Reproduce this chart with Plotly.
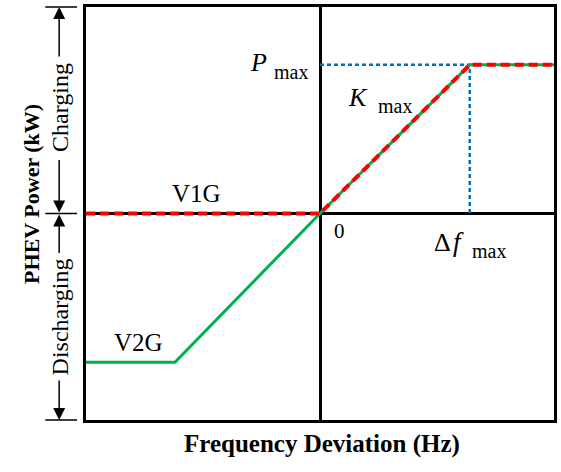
import plotly.graph_objects as go

# ---- data (normalised units) ----
freq_v2g = [-1.0, -0.62, 0.0, 0.64, 1.0]
power_v2g = [-0.72, -0.72, 0.0, 0.72, 0.72]
freq_v1g = [-1.0, 0.0, 0.64, 1.0]
power_v1g = [0.0, 0.0, 0.72, 0.72]
delta_f_max = 0.64
p_max = 0.72

W, H = 561, 472
L, R, T, B = 86, 4, 6, 52
pw, ph = W - L - R, H - T - B


def px(x):
    return (x - L) / pw


def py(y):
    return (H - B - y) / ph


FONT = "Liberation Serif"

fig = go.Figure()
# guide dotted lines
fig.add_trace(go.Scatter(x=[0, delta_f_max, delta_f_max], y=[p_max, p_max, 0], mode="lines",
                         line=dict(color="#0070C0", width=2.5, dash="4px,3px"), hoverinfo="skip"))
fig.add_trace(go.Scatter(x=freq_v2g, y=power_v2g, mode="lines",
                         line=dict(color="#00B050", width=3), hoverinfo="skip"))
fig.add_trace(go.Scatter(x=freq_v1g, y=power_v1g, mode="lines",
                         line=dict(color="#FF0000", width=4, dash="9px,5px"), hoverinfo="skip"))

ann = []


def txt(x, y, s, size, angle=0, bold=False, italic=False):
    if bold:
        s = "<b>" + s + "</b>"
    if italic:
        s = "<i>" + s + "</i>"
    ann.append(dict(x=px(x), y=py(y), xref="paper", yref="paper", text=s, showarrow=False, textangle=angle,
                    font=dict(family=FONT, size=size, color="black"), xanchor="center", yanchor="middle"))


# labels (pixel positions converted to paper coords)
txt(260, 62, "P", 26, italic=True)
txt(292, 71, "max", 20)
txt(360, 97, "K", 26, italic=True)
txt(397, 105, "max", 20)
txt(445, 242, "Δ", 26)
txt(461, 242, "f", 27, italic=True)
txt(492, 251, "max", 20)
txt(341, 231, "0", 21)
txt(197, 193, "V1G", 25)
txt(139, 342, "V2G", 25)
txt(324, 444, "Frequency Deviation (Hz)", 25, bold=True)
txt(31, 193, "PHEV Power (kW)", 22, angle=-90, bold=True)
txt(60, 107, "Charging", 24, angle=-90)
txt(60, 317, "Discharging", 24, angle=-90)

# arrows (head, tail)
AX = 59
for head_y, tail_y in [(6, 57), (212, 158), (214, 254), (420, 379)]:
    ann.append(dict(x=px(AX), y=py(head_y), xref="paper", yref="paper", text="", showarrow=True,
                    ax=0, ay=tail_y - head_y, axref="pixel", ayref="pixel",
                    arrowhead=2, arrowsize=1.6, arrowwidth=1.5, arrowcolor="black", standoff=0))

shapes = []
for yy in [6, 213, 420]:
    shapes.append(dict(type="line", xref="paper", yref="paper", x0=px(45), x1=px(77), y0=py(yy), y1=py(yy),
                       line=dict(color="black", width=1.5)))

fig.update_layout(
    width=W, height=H, margin=dict(l=L, r=R, t=T, b=B),
    paper_bgcolor="white", plot_bgcolor="white", showlegend=False,
    annotations=ann, shapes=shapes,
    xaxis=dict(range=[-1, 1], showgrid=False, showticklabels=False, ticks="", zeroline=True,
               zerolinecolor="black", zerolinewidth=2.5, showline=True, mirror=True,
               linecolor="black", linewidth=2.5, fixedrange=True),
    yaxis=dict(range=[-1, 1], showgrid=False, showticklabels=False, ticks="", zeroline=True,
               zerolinecolor="black", zerolinewidth=2.5, showline=True, mirror=True,
               linecolor="black", linewidth=2.5, fixedrange=True),
)

fig.write_html("out.html", config={"displayModeBar": False},
               post_script="document.body.style.margin='0';document.body.style.overflow='hidden';")
